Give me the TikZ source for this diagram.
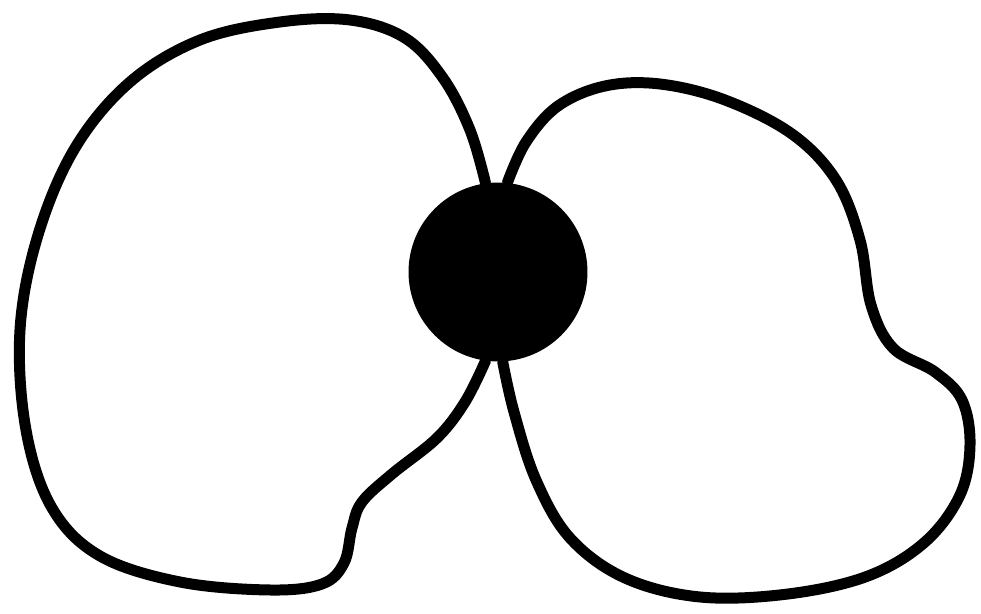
\documentclass[tikz,border=0pt]{standalone}
\begin{document}
\begin{tikzpicture}[
    x=0.02cm, y=-0.02cm,
    hub/.style={circle, fill=black, minimum size=3.58cm, inner sep=0pt},
    loopline/.style={line width=0.22cm, line cap=round, line join=round}
]
    \useasboundingbox (0,0) rectangle (981,614);

    % Central vertex
    \node[hub] (hub) at (498,272) {};

    % Left loop
    \draw[loopline] plot[smooth, tension=0.6] coordinates {
        (hub.98) (470,130) (443,78) (405,38) (350,20) (280,22) (200,40)
        (130,82) (75,148) (38,235) (20,330) (26,430) (52,508) (100,556)
        (180,582) (270,590) (322,584) (344,563) (352,528) (362,502)
        (392,474) (437,438) (465,402) (hub.262)};

    % Right loop
    \draw[loopline] plot[smooth, tension=0.6] coordinates {
        (hub.84) (526,142) (558,106) (605,86) (660,84) (725,100) (792,134)
        (836,180) (860,240) (871,305) (893,348) (935,372) (962,400)
        (970,445) (960,495) (925,542) (868,576) (788,594) (700,597)
        (625,578) (570,538) (536,480) (514,412) (hub.273)};
\end{tikzpicture}
\end{document}
